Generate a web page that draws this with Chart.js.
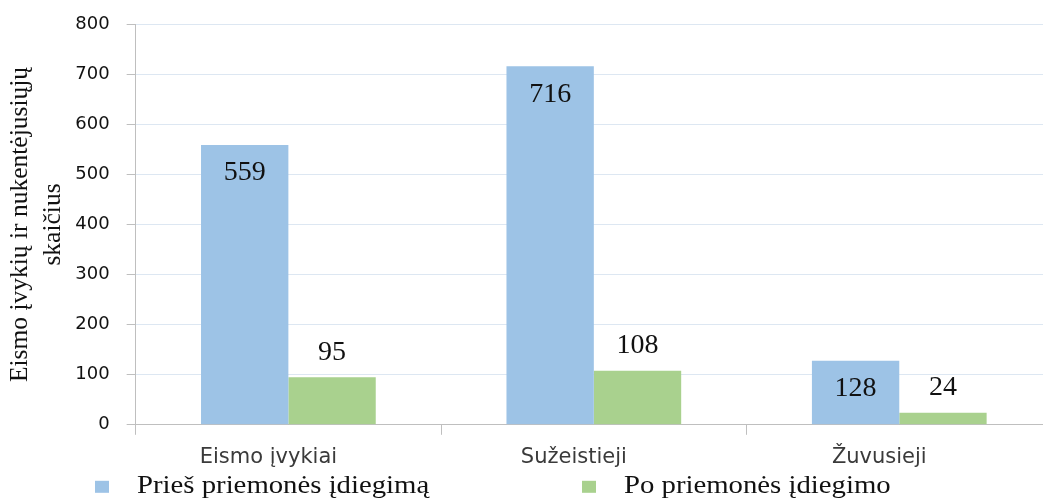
<!DOCTYPE html>
<html>
<head>
<meta charset="utf-8">
<script src="https://cdn.jsdelivr.net/npm/chart.js@4.4.0/dist/chart.umd.min.js"></script>
<style>
html, body { margin:0; padding:0; overflow:hidden; background:#fff; }
#wrap { position:relative; width:1043px; height:502px; overflow:hidden; }
#chart { position:absolute; left:0; top:0; display:block; }
</style>
</head>
<body>
<div id="wrap">
<canvas id="chart" width="1060" height="502" style="width:1060px;height:502px"></canvas>
</div>
<script>
// data
var categories = ['Eismo įvykiai', 'Sužeistieji', 'Žuvusieji'];
var seriesNames = ['Prieš priemonės įdiegimą', 'Po priemonės įdiegimo'];
var beforeValues = [559, 716, 128];
var afterValues = [95, 108, 24];
var yTicks = [0, 100, 200, 300, 400, 500, 600, 700, 800];
var axisTitle = ['Eismo įvykių ir nukentėjusiųjų', 'skaičius'];

var blue = '#9dc3e6';
var green = '#a9d18e';
var gridColor = '#dde7f2';
var axisColor = '#bfbfbf';

// numbers over / inside the bars
var barLabels = {
	id: 'barLabels',
	afterDatasetsDraw: function(chart){
		var ctx = chart.ctx;
		ctx.save();
		ctx.font = '28px "Liberation Serif"';
		ctx.fillStyle = '#111';
		ctx.textAlign = 'center';
		ctx.textBaseline = 'middle';
		chart.data.datasets.forEach(function(ds, i){
			var meta = chart.getDatasetMeta(i);
			meta.data.forEach(function(bar, j){
				var y = (i === 0) ? bar.y + 28 : bar.y - 25;
				ctx.fillText(ds.data[j], bar.x, y);
			});
		});
		ctx.restore();
	}
};

// legend below the axis, text a bit wide like the original
var wideLegend = {
	id: 'wideLegend',
	afterDraw: function(chart){
		var ctx = chart.ctx;
		var xs = [95, 582];
		var top = chart.chartArea.bottom + 56;
		ctx.save();
		chart.data.datasets.forEach(function(ds, i){
			ctx.fillStyle = ds.backgroundColor;
			ctx.fillRect(xs[i], top, 14, 12);
			ctx.save();
			ctx.translate(xs[i] + 42, top + 12);
			ctx.scale(1.15, 1);
			ctx.font = '25px "Liberation Serif"';
			ctx.fillStyle = '#111';
			ctx.textBaseline = 'alphabetic';
			ctx.fillText(ds.label, 0, 0);
			ctx.restore();
		});
		ctx.restore();
	}
};

var ctx = document.getElementById('chart');
var chart = new Chart(ctx, {
	type: 'bar',
	data: {
		labels: categories,
		datasets: [{
			label: seriesNames[0],
			data: beforeValues,
			backgroundColor: blue,
			categoryPercentage: 0.572,
			barPercentage: 1
		}, {
			label: seriesNames[1],
			data: afterValues,
			backgroundColor: green,
			categoryPercentage: 0.572,
			barPercentage: 1
		}]
	},
	options: {
		responsive: false,
		animation: false,
		layout: {
			padding: { left: 0, right: 8, top: 18, bottom: 22 }
		},
		plugins: {
			legend: { display: false },
			tooltip: { enabled: false }
		},
		scales: {
			x: {
				grid: {
					drawOnChartArea: false,
					color: axisColor,
					tickLength: 10
				},
				border: { color: axisColor },
				ticks: {
					font: { family: '"DejaVu Sans"', size: 21 },
					color: '#3a3a3a',
					padding: 10,
					labelOffset: -20
				}
			},
			y: {
				min: yTicks[0],
				max: yTicks[yTicks.length - 1],
				grid: {
					color: gridColor,
					tickColor: axisColor,
					tickLength: 9
				},
				border: { color: axisColor },
				ticks: {
					stepSize: yTicks[1] - yTicks[0],
					font: { family: '"DejaVu Sans"', size: 18, lineHeight: 0.8 },
					color: '#111',
					padding: 17
				},
				title: {
					display: true,
					text: axisTitle,
					font: { family: '"Liberation Serif"', size: 25.5, lineHeight: 1.3 },
					color: '#111',
					padding: { top: 4, bottom: -12 }
				}
			}
		}
	},
	plugins: [barLabels, wideLegend]
});
</script>
</body>
</html>
